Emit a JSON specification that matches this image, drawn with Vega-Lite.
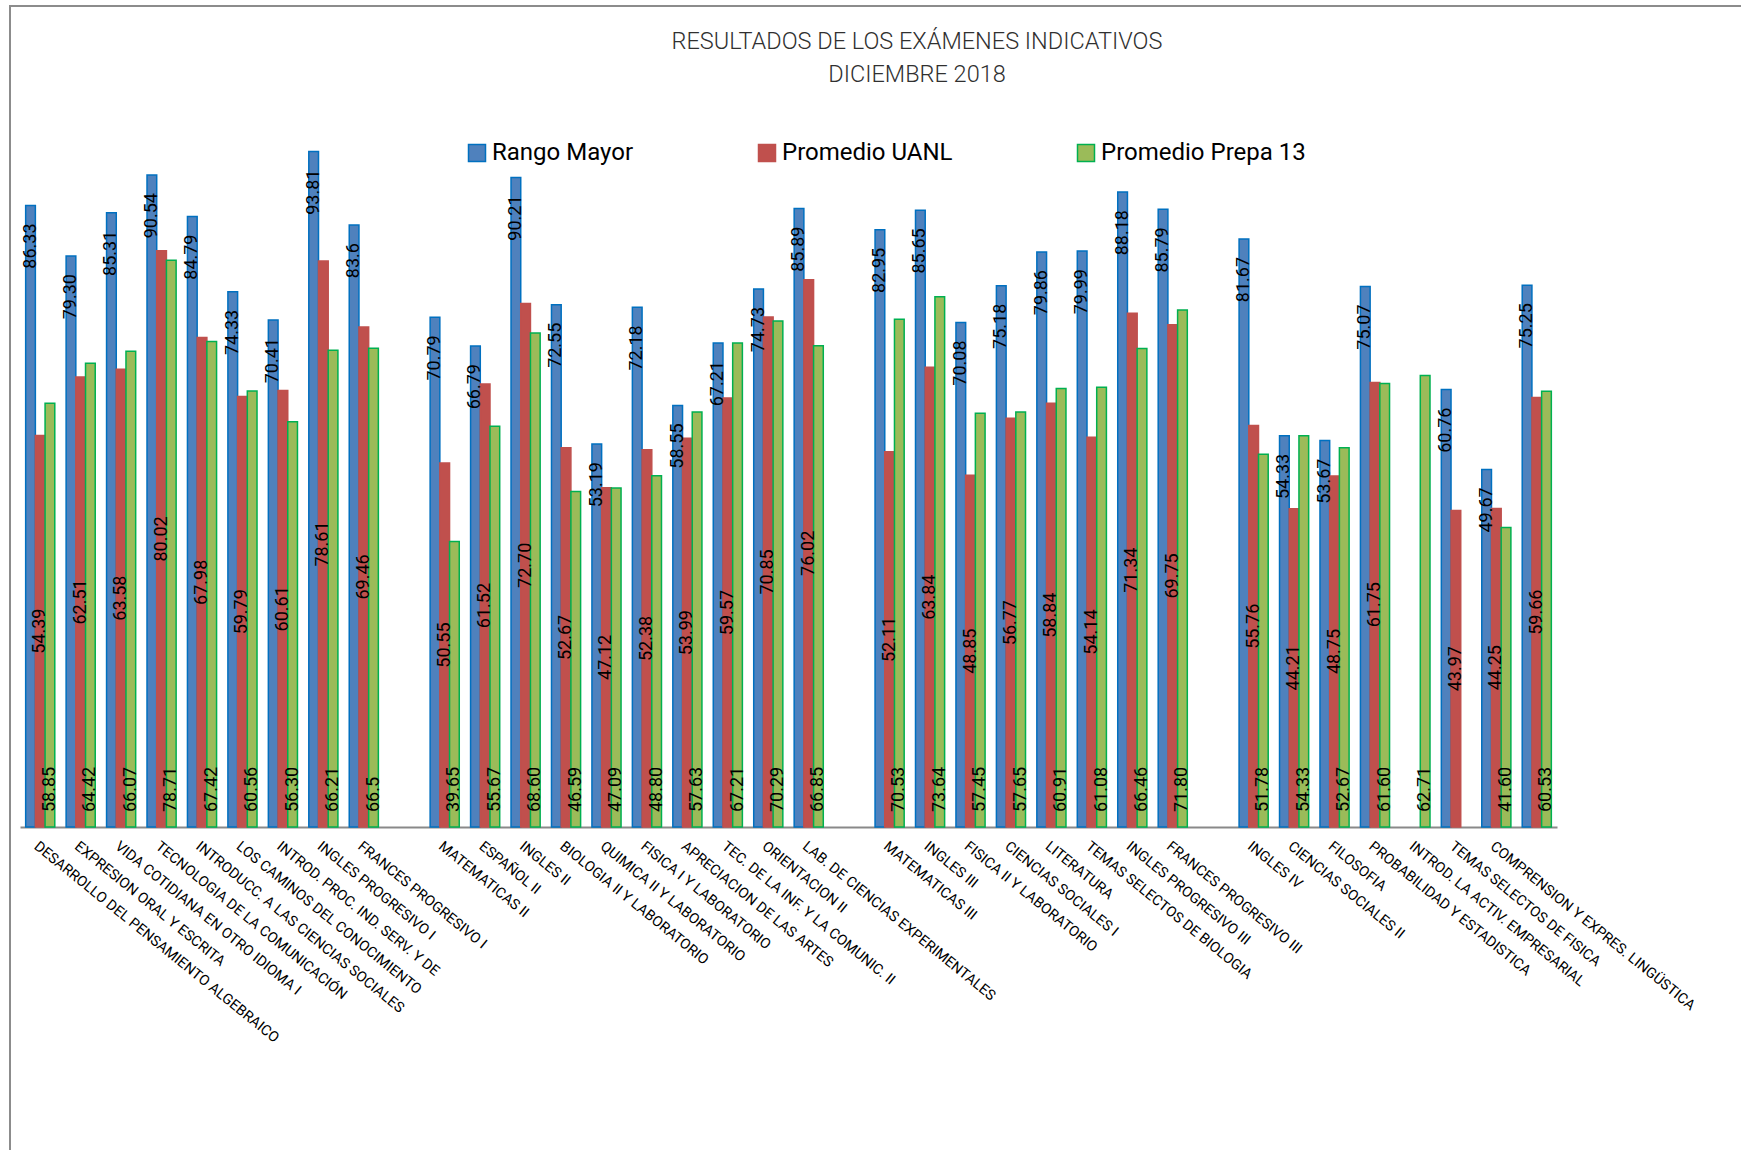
{
  "$schema": "https://vega.github.io/schema/vega-lite/v6.json",
  "autosize": {"type": "none"},
  "width": 1740,
  "height": 1150,
  "padding": {"left": 10, "top": 6, "right": -9, "bottom": -6},
  "background": "white",
  "title": {
    "text": ["RESULTADOS DE LOS EXÁMENES INDICATIVOS", "DICIEMBRE 2018"],
    "font": "Roboto", "fontSize": 23.5, "fontWeight": 300, "color": "#303030",
    "anchor": "middle", "frame": "group", "dx": 37, "offset": -80, "lineHeight": 33
  },
  "data": {"values": [
    {"materia": "DESARROLLO DEL PENSAMIENTO ALGEBRAICO", "serie": "Rango Mayor", "valor": 86.33, "etiqueta": "86.33"},
    {"materia": "DESARROLLO DEL PENSAMIENTO ALGEBRAICO", "serie": "Promedio UANL", "valor": 54.39, "etiqueta": "54.39"},
    {"materia": "DESARROLLO DEL PENSAMIENTO ALGEBRAICO", "serie": "Promedio Prepa 13", "valor": 58.85, "etiqueta": "58.85"},
    {"materia": "EXPRESION ORAL Y ESCRITA", "serie": "Rango Mayor", "valor": 79.30, "etiqueta": "79.30"},
    {"materia": "EXPRESION ORAL Y ESCRITA", "serie": "Promedio UANL", "valor": 62.51, "etiqueta": "62.51"},
    {"materia": "EXPRESION ORAL Y ESCRITA", "serie": "Promedio Prepa 13", "valor": 64.42, "etiqueta": "64.42"},
    {"materia": "VIDA COTIDIANA EN OTRO IDIOMA I", "serie": "Rango Mayor", "valor": 85.31, "etiqueta": "85.31"},
    {"materia": "VIDA COTIDIANA EN OTRO IDIOMA I", "serie": "Promedio UANL", "valor": 63.58, "etiqueta": "63.58"},
    {"materia": "VIDA COTIDIANA EN OTRO IDIOMA I", "serie": "Promedio Prepa 13", "valor": 66.07, "etiqueta": "66.07"},
    {"materia": "TECNOLOGIA DE LA COMUNICACIÓN", "serie": "Rango Mayor", "valor": 90.54, "etiqueta": "90.54"},
    {"materia": "TECNOLOGIA DE LA COMUNICACIÓN", "serie": "Promedio UANL", "valor": 80.02, "etiqueta": "80.02"},
    {"materia": "TECNOLOGIA DE LA COMUNICACIÓN", "serie": "Promedio Prepa 13", "valor": 78.71, "etiqueta": "78.71"},
    {"materia": "INTRODUCC. A LAS CIENCIAS SOCIALES", "serie": "Rango Mayor", "valor": 84.79, "etiqueta": "84.79"},
    {"materia": "INTRODUCC. A LAS CIENCIAS SOCIALES", "serie": "Promedio UANL", "valor": 67.98, "etiqueta": "67.98"},
    {"materia": "INTRODUCC. A LAS CIENCIAS SOCIALES", "serie": "Promedio Prepa 13", "valor": 67.42, "etiqueta": "67.42"},
    {"materia": "LOS CAMINOS DEL CONOCIMIENTO", "serie": "Rango Mayor", "valor": 74.33, "etiqueta": "74.33"},
    {"materia": "LOS CAMINOS DEL CONOCIMIENTO", "serie": "Promedio UANL", "valor": 59.79, "etiqueta": "59.79"},
    {"materia": "LOS CAMINOS DEL CONOCIMIENTO", "serie": "Promedio Prepa 13", "valor": 60.56, "etiqueta": "60.56"},
    {"materia": "INTROD. PROC. IND. SERV. Y DE", "serie": "Rango Mayor", "valor": 70.41, "etiqueta": "70.41"},
    {"materia": "INTROD. PROC. IND. SERV. Y DE", "serie": "Promedio UANL", "valor": 60.61, "etiqueta": "60.61"},
    {"materia": "INTROD. PROC. IND. SERV. Y DE", "serie": "Promedio Prepa 13", "valor": 56.30, "etiqueta": "56.30"},
    {"materia": "INGLES PROGRESIVO I", "serie": "Rango Mayor", "valor": 93.81, "etiqueta": "93.81"},
    {"materia": "INGLES PROGRESIVO I", "serie": "Promedio UANL", "valor": 78.61, "etiqueta": "78.61"},
    {"materia": "INGLES PROGRESIVO I", "serie": "Promedio Prepa 13", "valor": 66.21, "etiqueta": "66.21"},
    {"materia": "FRANCES PROGRESIVO I", "serie": "Rango Mayor", "valor": 83.6, "etiqueta": "83.6"},
    {"materia": "FRANCES PROGRESIVO I", "serie": "Promedio UANL", "valor": 69.46, "etiqueta": "69.46"},
    {"materia": "FRANCES PROGRESIVO I", "serie": "Promedio Prepa 13", "valor": 66.5, "etiqueta": "66.5"},
    {"materia": "MATEMATICAS II", "serie": "Rango Mayor", "valor": 70.79, "etiqueta": "70.79"},
    {"materia": "MATEMATICAS II", "serie": "Promedio UANL", "valor": 50.55, "etiqueta": "50.55"},
    {"materia": "MATEMATICAS II", "serie": "Promedio Prepa 13", "valor": 39.65, "etiqueta": "39.65"},
    {"materia": "ESPAÑOL II", "serie": "Rango Mayor", "valor": 66.79, "etiqueta": "66.79"},
    {"materia": "ESPAÑOL II", "serie": "Promedio UANL", "valor": 61.52, "etiqueta": "61.52"},
    {"materia": "ESPAÑOL II", "serie": "Promedio Prepa 13", "valor": 55.67, "etiqueta": "55.67"},
    {"materia": "INGLES II", "serie": "Rango Mayor", "valor": 90.21, "etiqueta": "90.21"},
    {"materia": "INGLES II", "serie": "Promedio UANL", "valor": 72.70, "etiqueta": "72.70"},
    {"materia": "INGLES II", "serie": "Promedio Prepa 13", "valor": 68.60, "etiqueta": "68.60"},
    {"materia": "BIOLOGIA II Y LABORATORIO", "serie": "Rango Mayor", "valor": 72.55, "etiqueta": "72.55"},
    {"materia": "BIOLOGIA II Y LABORATORIO", "serie": "Promedio UANL", "valor": 52.67, "etiqueta": "52.67"},
    {"materia": "BIOLOGIA II Y LABORATORIO", "serie": "Promedio Prepa 13", "valor": 46.59, "etiqueta": "46.59"},
    {"materia": "QUIMICA II Y LABORATORIO", "serie": "Rango Mayor", "valor": 53.19, "etiqueta": "53.19"},
    {"materia": "QUIMICA II Y LABORATORIO", "serie": "Promedio UANL", "valor": 47.12, "etiqueta": "47.12"},
    {"materia": "QUIMICA II Y LABORATORIO", "serie": "Promedio Prepa 13", "valor": 47.09, "etiqueta": "47.09"},
    {"materia": "FISICA I Y LABORATORIO", "serie": "Rango Mayor", "valor": 72.18, "etiqueta": "72.18"},
    {"materia": "FISICA I Y LABORATORIO", "serie": "Promedio UANL", "valor": 52.38, "etiqueta": "52.38"},
    {"materia": "FISICA I Y LABORATORIO", "serie": "Promedio Prepa 13", "valor": 48.80, "etiqueta": "48.80"},
    {"materia": "APRECIACION DE LAS ARTES", "serie": "Rango Mayor", "valor": 58.55, "etiqueta": "58.55"},
    {"materia": "APRECIACION DE LAS ARTES", "serie": "Promedio UANL", "valor": 53.99, "etiqueta": "53.99"},
    {"materia": "APRECIACION DE LAS ARTES", "serie": "Promedio Prepa 13", "valor": 57.63, "etiqueta": "57.63"},
    {"materia": "TEC. DE LA INF. Y LA COMUNIC. II", "serie": "Rango Mayor", "valor": 67.21, "etiqueta": "67.21"},
    {"materia": "TEC. DE LA INF. Y LA COMUNIC. II", "serie": "Promedio UANL", "valor": 59.57, "etiqueta": "59.57"},
    {"materia": "TEC. DE LA INF. Y LA COMUNIC. II", "serie": "Promedio Prepa 13", "valor": 67.21, "etiqueta": "67.21"},
    {"materia": "ORIENTACION II", "serie": "Rango Mayor", "valor": 74.73, "etiqueta": "74.73"},
    {"materia": "ORIENTACION II", "serie": "Promedio UANL", "valor": 70.85, "etiqueta": "70.85"},
    {"materia": "ORIENTACION II", "serie": "Promedio Prepa 13", "valor": 70.29, "etiqueta": "70.29"},
    {"materia": "LAB. DE CIENCIAS EXPERIMENTALES", "serie": "Rango Mayor", "valor": 85.89, "etiqueta": "85.89"},
    {"materia": "LAB. DE CIENCIAS EXPERIMENTALES", "serie": "Promedio UANL", "valor": 76.02, "etiqueta": "76.02"},
    {"materia": "LAB. DE CIENCIAS EXPERIMENTALES", "serie": "Promedio Prepa 13", "valor": 66.85, "etiqueta": "66.85"},
    {"materia": "MATEMATICAS III", "serie": "Rango Mayor", "valor": 82.95, "etiqueta": "82.95"},
    {"materia": "MATEMATICAS III", "serie": "Promedio UANL", "valor": 52.11, "etiqueta": "52.11"},
    {"materia": "MATEMATICAS III", "serie": "Promedio Prepa 13", "valor": 70.53, "etiqueta": "70.53"},
    {"materia": "INGLES III", "serie": "Rango Mayor", "valor": 85.65, "etiqueta": "85.65"},
    {"materia": "INGLES III", "serie": "Promedio UANL", "valor": 63.84, "etiqueta": "63.84"},
    {"materia": "INGLES III", "serie": "Promedio Prepa 13", "valor": 73.64, "etiqueta": "73.64"},
    {"materia": "FISICA II Y LABORATORIO", "serie": "Rango Mayor", "valor": 70.08, "etiqueta": "70.08"},
    {"materia": "FISICA II Y LABORATORIO", "serie": "Promedio UANL", "valor": 48.85, "etiqueta": "48.85"},
    {"materia": "FISICA II Y LABORATORIO", "serie": "Promedio Prepa 13", "valor": 57.45, "etiqueta": "57.45"},
    {"materia": "CIENCIAS SOCIALES I", "serie": "Rango Mayor", "valor": 75.18, "etiqueta": "75.18"},
    {"materia": "CIENCIAS SOCIALES I", "serie": "Promedio UANL", "valor": 56.77, "etiqueta": "56.77"},
    {"materia": "CIENCIAS SOCIALES I", "serie": "Promedio Prepa 13", "valor": 57.65, "etiqueta": "57.65"},
    {"materia": "LITERATURA", "serie": "Rango Mayor", "valor": 79.86, "etiqueta": "79.86"},
    {"materia": "LITERATURA", "serie": "Promedio UANL", "valor": 58.84, "etiqueta": "58.84"},
    {"materia": "LITERATURA", "serie": "Promedio Prepa 13", "valor": 60.91, "etiqueta": "60.91"},
    {"materia": "TEMAS SELECTOS DE BIOLOGIA", "serie": "Rango Mayor", "valor": 79.99, "etiqueta": "79.99"},
    {"materia": "TEMAS SELECTOS DE BIOLOGIA", "serie": "Promedio UANL", "valor": 54.14, "etiqueta": "54.14"},
    {"materia": "TEMAS SELECTOS DE BIOLOGIA", "serie": "Promedio Prepa 13", "valor": 61.08, "etiqueta": "61.08"},
    {"materia": "INGLES PROGRESIVO III", "serie": "Rango Mayor", "valor": 88.18, "etiqueta": "88.18"},
    {"materia": "INGLES PROGRESIVO III", "serie": "Promedio UANL", "valor": 71.34, "etiqueta": "71.34"},
    {"materia": "INGLES PROGRESIVO III", "serie": "Promedio Prepa 13", "valor": 66.46, "etiqueta": "66.46"},
    {"materia": "FRANCES PROGRESIVO III", "serie": "Rango Mayor", "valor": 85.79, "etiqueta": "85.79"},
    {"materia": "FRANCES PROGRESIVO III", "serie": "Promedio UANL", "valor": 69.75, "etiqueta": "69.75"},
    {"materia": "FRANCES PROGRESIVO III", "serie": "Promedio Prepa 13", "valor": 71.80, "etiqueta": "71.80"},
    {"materia": "INGLES IV", "serie": "Rango Mayor", "valor": 81.67, "etiqueta": "81.67"},
    {"materia": "INGLES IV", "serie": "Promedio UANL", "valor": 55.76, "etiqueta": "55.76"},
    {"materia": "INGLES IV", "serie": "Promedio Prepa 13", "valor": 51.78, "etiqueta": "51.78"},
    {"materia": "CIENCIAS SOCIALES II", "serie": "Rango Mayor", "valor": 54.33, "etiqueta": "54.33"},
    {"materia": "CIENCIAS SOCIALES II", "serie": "Promedio UANL", "valor": 44.21, "etiqueta": "44.21"},
    {"materia": "CIENCIAS SOCIALES II", "serie": "Promedio Prepa 13", "valor": 54.33, "etiqueta": "54.33"},
    {"materia": "FILOSOFIA", "serie": "Rango Mayor", "valor": 53.67, "etiqueta": "53.67"},
    {"materia": "FILOSOFIA", "serie": "Promedio UANL", "valor": 48.75, "etiqueta": "48.75"},
    {"materia": "FILOSOFIA", "serie": "Promedio Prepa 13", "valor": 52.67, "etiqueta": "52.67"},
    {"materia": "PROBABILIDAD Y ESTADISTICA", "serie": "Rango Mayor", "valor": 75.07, "etiqueta": "75.07"},
    {"materia": "PROBABILIDAD Y ESTADISTICA", "serie": "Promedio UANL", "valor": 61.75, "etiqueta": "61.75"},
    {"materia": "PROBABILIDAD Y ESTADISTICA", "serie": "Promedio Prepa 13", "valor": 61.60, "etiqueta": "61.60"},
    {"materia": "INTROD. LA ACTIV. EMPRESARIAL", "serie": "Promedio Prepa 13", "valor": 62.71, "etiqueta": "62.71"},
    {"materia": "TEMAS SELECTOS DE FISICA", "serie": "Rango Mayor", "valor": 60.76, "etiqueta": "60.76"},
    {"materia": "TEMAS SELECTOS DE FISICA", "serie": "Promedio UANL", "valor": 43.97, "etiqueta": "43.97"},
    {"materia": "COMPRENSION Y EXPRES. LINGÜSTICA", "serie": "Rango Mayor", "valor": 49.67, "etiqueta": "49.67"},
    {"materia": "COMPRENSION Y EXPRES. LINGÜSTICA", "serie": "Promedio UANL", "valor": 44.25, "etiqueta": "44.25"},
    {"materia": "COMPRENSION Y EXPRES. LINGÜSTICA", "serie": "Promedio Prepa 13", "valor": 41.60, "etiqueta": "41.60"},
    {"materia": "_sin_nombre", "serie": "Rango Mayor", "valor": 75.25, "etiqueta": "75.25"},
    {"materia": "_sin_nombre", "serie": "Promedio UANL", "valor": 59.66, "etiqueta": "59.66"},
    {"materia": "_sin_nombre", "serie": "Promedio Prepa 13", "valor": 60.53, "etiqueta": "60.53"}
  ]},
  "encoding": {
    "x": {
      "field": "materia", "type": "nominal",
      "scale": {
        "domain": [
          "DESARROLLO DEL PENSAMIENTO ALGEBRAICO", "EXPRESION ORAL Y ESCRITA", "VIDA COTIDIANA EN OTRO IDIOMA I", "TECNOLOGIA DE LA COMUNICACIÓN", "INTRODUCC. A LAS CIENCIAS SOCIALES", "LOS CAMINOS DEL CONOCIMIENTO", "INTROD. PROC. IND. SERV. Y DE", "INGLES PROGRESIVO I", "FRANCES PROGRESIVO I",
          "_hueco1",
          "MATEMATICAS II", "ESPAÑOL II", "INGLES II", "BIOLOGIA II Y LABORATORIO", "QUIMICA II Y LABORATORIO", "FISICA I Y LABORATORIO", "APRECIACION DE LAS ARTES", "TEC. DE LA INF. Y LA COMUNIC. II", "ORIENTACION II", "LAB. DE CIENCIAS EXPERIMENTALES",
          "_hueco2",
          "MATEMATICAS III", "INGLES III", "FISICA II Y LABORATORIO", "CIENCIAS SOCIALES I", "LITERATURA", "TEMAS SELECTOS DE BIOLOGIA", "INGLES PROGRESIVO III", "FRANCES PROGRESIVO III",
          "_hueco3",
          "INGLES IV", "CIENCIAS SOCIALES II", "FILOSOFIA", "PROBABILIDAD Y ESTADISTICA", "INTROD. LA ACTIV. EMPRESARIAL", "TEMAS SELECTOS DE FISICA", "COMPRENSION Y EXPRES. LINGÜSTICA", "_sin_nombre"
        ],
        "range": [10, 1547],
        "paddingInner": 0.28, "paddingOuter": 0.14
      },
      "axis": {
        "title": null, "ticks": false, "grid": false, "offset": -329,
        "domainColor": "#898989", "domainWidth": 2,
        "labelAngle": 39, "labelAlign": "left", "labelBaseline": "top", "labelPadding": 12,
        "labelFont": "Roboto", "labelFontSize": 14.5, "labelColor": "black",
        "labelLimit": 0, "labelOverlap": false,
        "labelExpr": "indexof(datum.label, '_') == 0 ? '' : datum.label"
      }
    },
    "xOffset": {"field": "serie", "type": "nominal", "scale": {"domain": ["Rango Mayor", "Promedio UANL", "Promedio Prepa 13"]}}
  },
  "layer": [
    {
      "mark": {"type": "bar", "strokeWidth": 1.5},
      "encoding": {
        "y": {"field": "valor", "type": "quantitative", "scale": {"domain": [0, 100], "range": [821, 101]}, "axis": null},
        "fill": {
          "field": "serie", "type": "nominal",
          "scale": {"domain": ["Rango Mayor", "Promedio UANL", "Promedio Prepa 13"], "range": ["#4F81BD", "#C0504D", "#9BBB59"]},
          "legend": {"orient": "none", "legendX": 455, "legendY": 135, "direction": "horizontal", "title": null, "symbolType": "square", "symbolSize": 289, "symbolStrokeWidth": 1.5, "labelFont": "Roboto", "labelFontSize": 24, "labelColor": "black", "labelOffset": 3, "labelLimit": 0, "columnPadding": 121}
        },
        "stroke": {
          "field": "serie", "type": "nominal",
          "scale": {"domain": ["Rango Mayor", "Promedio UANL", "Promedio Prepa 13"], "range": ["#0070C0", "#C0504D", "#00B050"]},
          "legend": {"orient": "none", "legendX": 455, "legendY": 135, "direction": "horizontal", "title": null, "symbolType": "square", "symbolSize": 289, "symbolStrokeWidth": 1.5, "labelFont": "Roboto", "labelFontSize": 24, "labelColor": "black", "labelOffset": 3, "labelLimit": 0, "columnPadding": 121}
        }
      }
    },
    {
      "transform": [{"filter": "datum.serie == 'Rango Mayor'"}],
      "mark": {"type": "text", "angle": 270, "align": "right", "baseline": "middle", "dx": -18, "font": "Roboto", "fontSize": 18, "fill": "black"},
      "encoding": {
        "y": {"field": "valor", "type": "quantitative", "scale": {"domain": [0, 100], "range": [821, 101]}, "axis": null},
        "text": {"field": "etiqueta", "type": "nominal"}
      }
    },
    {
      "transform": [{"filter": "datum.serie == 'Promedio UANL'"}],
      "mark": {"type": "text", "angle": 270, "align": "center", "baseline": "middle", "font": "Roboto", "fontSize": 18, "fill": "black"},
      "encoding": {
        "y": {"field": "valor", "type": "quantitative", "scale": {"domain": [0, 200], "range": [821, 101]}, "axis": null},
        "text": {"field": "etiqueta", "type": "nominal"}
      }
    },
    {
      "transform": [{"filter": "datum.serie == 'Promedio Prepa 13'"}],
      "mark": {"type": "text", "angle": 270, "align": "left", "baseline": "middle", "dx": 15, "font": "Roboto", "fontSize": 18, "fill": "black"},
      "encoding": {
        "y": {"datum": 0, "type": "quantitative", "scale": {"domain": [0, 100], "range": [821, 101]}, "axis": null},
        "text": {"field": "etiqueta", "type": "nominal"}
      }
    }
  ],
  "resolve": {"scale": {"y": "independent"}},
  "config": {"view": {"stroke": "#8c8c8c", "strokeWidth": 2}}
}
